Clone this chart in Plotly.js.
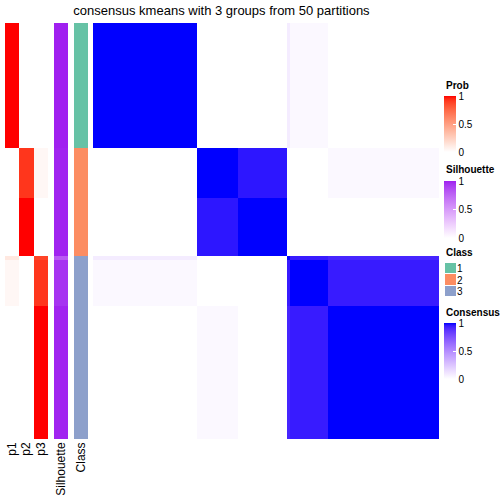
<!DOCTYPE html>
<html>
<head>
<meta charset="utf-8">
<script src="https://cdn.plot.ly/plotly-3.0.1.min.js"></script>
<style>html,body{margin:0;padding:0;background:#fff;}#chart{width:504px;height:504px;}</style>
</head>
<body>
<div id="chart"></div>
<script>
// ---- data (block level: samples grouped into contiguous sub-blocks) ----
const blockSizes = [30, 12, 14, 1, 11, 32];
const consensus = [
  [1.00, 0.00, 0.00, 0.08, 0.03, 0.00],
  [0.00, 1.00, 0.96, 0.00, 0.00, 0.03],
  [0.00, 0.96, 1.00, 0.00, 0.00, 0.00],
  [0.08, 0.00, 0.00, 1.00, 0.95, 0.92],
  [0.03, 0.00, 0.00, 0.95, 1.00, 0.95],
  [0.00, 0.03, 0.00, 0.92, 0.95, 1.00]
];
const p1 = [1.00, 0.00, 0.00, 0.12, 0.04, 0.00];
const p2 = [0.00, 0.92, 1.00, 0.00, 0.00, 0.00];
const p3 = [0.00, 0.04, 0.00, 0.88, 0.92, 1.00];
const silhouette = [1.00, 0.99, 0.99, 0.80, 0.95, 0.99];
const classLabel = [1, 2, 2, 3, 3, 3];
const probNames = ['p1', 'p2', 'p3'];
const classLevels = [1, 2, 3];
const classColors = ['#66C2A5', '#FC8D62', '#8DA0CB'];
const titleText = 'consensus kmeans with 3 groups from 50 partitions';

// ---- helpers: LAB interpolation colour ramps (like circlize::colorRamp2) ----
function s2l(c){c/=255;return c<=0.04045?c/12.92:Math.pow((c+0.055)/1.055,2.4);}
function l2s(c){c=Math.min(1,Math.max(0,c));const v=c<=0.0031308?12.92*c:1.055*Math.pow(c,1/2.4)-0.055;return Math.round(Math.min(1,Math.max(0,v))*255);}
const Xn=0.95047,Yn=1,Zn=1.08883;
function f(t){return t>0.008856?Math.cbrt(t):7.787*t+16/116;}
function fi(t){return t>0.206893?t*t*t:(t-16/116)/7.787;}
function hex2rgb(h){return [parseInt(h.slice(1,3),16),parseInt(h.slice(3,5),16),parseInt(h.slice(5,7),16)];}
function rgb2lab(c){const R=s2l(c[0]),G=s2l(c[1]),B=s2l(c[2]);
  const X=0.4124*R+0.3576*G+0.1805*B,Y=0.2126*R+0.7152*G+0.0722*B,Z=0.0193*R+0.1192*G+0.9505*B;
  const fx=f(X/Xn),fy=f(Y/Yn),fz=f(Z/Zn);return [116*fy-16,500*(fx-fy),200*(fy-fz)];}
function lab2rgb(l){const fy=(l[0]+16)/116,fx=fy+l[1]/500,fz=fy-l[2]/200;
  const X=Xn*fi(fx),Y=Yn*fi(fy),Z=Zn*fi(fz);
  const R=3.2406*X-1.5372*Y-0.4986*Z,G=-0.9689*X+1.8758*Y+0.0415*Z,B=0.0557*X-0.2040*Y+1.0570*Z;
  return 'rgb('+l2s(R)+','+l2s(G)+','+l2s(B)+')';}
function ramp(c0,c1){const a=rgb2lab(hex2rgb(c0)),b=rgb2lab(hex2rgb(c1));const out=[];
  for(let i=0;i<=20;i++){const t=i/20;out.push([t,lab2rgb([a[0]+(b[0]-a[0])*t,a[1]+(b[1]-a[1])*t,a[2]+(b[2]-a[2])*t])]);}
  return out;}

const edges=[0];blockSizes.forEach(s=>edges.push(edges[edges.length-1]+s));
const N=edges[edges.length-1];

const W=504,H=504;
const px=v=>v/W, py=v=>1-v/H;
const FONT='Liberation Sans, Arial, Helvetica, sans-serif';

const probScale=ramp('#FFFFFF','#FF0000');
const silScale=ramp('#FFFFFF','#A020F0');
const consScale=ramp('#FFFFFF','#0000FF');
const classScale=[[0,classColors[0]],[0.5,classColors[1]],[1,classColors[2]]];

function cb(centerY,lenPx){return {x:px(444),xanchor:'left',xpad:0,ypad:0,y:py(centerY),yanchor:'middle',
  len:lenPx,lenmode:'pixels',thickness:12,thicknessmode:'pixels',outlinewidth:0,
  tickvals:[0,0.5,1],ticktext:['0','0.5','1'],ticks:'inside',ticklen:3,tickcolor:'#ffffff',
  tickfont:{family:FONT,size:10,color:'#000'}};}

const traces=[
  {type:'heatmap',x:probNames,y:edges,z:p1.map((v,i)=>[p1[i],p2[i],p3[i]]),
   colorscale:probScale,zmin:0,zmax:1,xaxis:'x',yaxis:'y',colorbar:cb(124,56),hoverinfo:'skip'},
  {type:'heatmap',x:['Silhouette'],y:edges,z:silhouette.map(v=>[v]),
   colorscale:silScale,zmin:0,zmax:1,xaxis:'x2',yaxis:'y',colorbar:cb(209.5,57),hoverinfo:'skip'},
  {type:'heatmap',x:['Class'],y:edges,z:classLabel.map(v=>[v]),
   colorscale:classScale,zmin:1,zmax:3,showscale:false,xaxis:'x3',yaxis:'y',hoverinfo:'skip'},
  {type:'heatmap',x:edges,y:edges,z:consensus,
   colorscale:consScale,zmin:0,zmax:1,xaxis:'x4',yaxis:'y',colorbar:cb(351,56),hoverinfo:'skip'},
  {type:'heatmap',x:['c'],y:classLevels.map(String),z:classLevels.map(v=>[v]),
   colorscale:classScale,zmin:1,zmax:3,showscale:false,xaxis:'x5',yaxis:'y5',ygap:1,hoverinfo:'skip'}
];

const baseX={showgrid:false,zeroline:false,showline:false,ticks:'',fixedrange:true,
  tickangle:-90,tickfont:{family:FONT,size:12,color:'#000'},anchor:'y'};
const layout={
  width:W,height:H,margin:{l:0,r:0,t:0,b:0},paper_bgcolor:'#fff',plot_bgcolor:'#fff',
  showlegend:false,
  title:{text:titleText,x:px(221.5),xanchor:'center',xref:'paper',y:py(10),yanchor:'middle',yref:'paper',
    font:{family:FONT,size:13,color:'#000'}},
  yaxis:{domain:[py(439),py(23)],range:[N,0],showgrid:false,zeroline:false,showticklabels:false,ticks:'',fixedrange:true},
  xaxis:Object.assign({},baseX,{domain:[px(5),px(48)]}),
  xaxis2:Object.assign({},baseX,{domain:[px(54),px(68)]}),
  xaxis3:Object.assign({},baseX,{domain:[px(74),px(88)]}),
  xaxis4:Object.assign({},baseX,{domain:[px(93),px(439)],range:[0,N],showticklabels:false}),
  xaxis5:{domain:[px(445),px(456)],anchor:'y5',showticklabels:false,showgrid:false,zeroline:false,ticks:''},
  yaxis5:{domain:[py(297),py(263)],anchor:'x5',side:'right',autorange:'reversed',showgrid:false,zeroline:false,ticks:'',
    tickfont:{family:FONT,size:10,color:'#000'}},
  annotations:[
    ['Prob',85],['Silhouette',169.5],['Class',252.5],['Consensus',312]
  ].map(a=>({text:'<b>'+a[0]+'</b>',xref:'paper',yref:'paper',x:px(444),xanchor:'left',y:py(a[1]),yanchor:'middle',
    showarrow:false,font:{family:FONT,size:10,color:'#000'}}))
};
Plotly.newPlot('chart',traces,layout,{staticPlot:true,displayModeBar:false});
</script>
</body>
</html>
